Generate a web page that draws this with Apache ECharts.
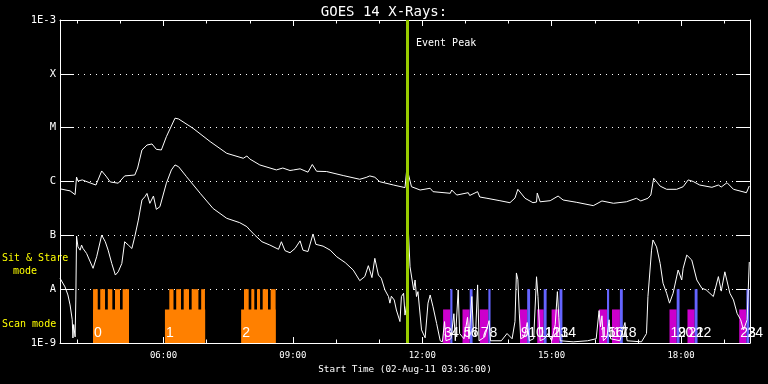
<!DOCTYPE html>
<html><head><meta charset="utf-8">
<script src="https://cdn.jsdelivr.net/npm/echarts@6/dist/echarts.min.js"></script>
<style>html,body{margin:0;padding:0;background:#000;}#c{width:768px;height:384px;}</style>
</head><body><div id="c"></div>
<script>
// ---- data (times are UT on 02-Aug-2011, flux in W/m^2) ----
const longTimes = ['03:36','03:50','03:57','03:59','04:01','04:07','04:18','04:26','04:34','04:40','04:46','04:57','05:06','05:20','05:24','05:30','05:37','05:44','05:50','05:57','06:04','06:16','06:21','06:41','07:05','07:28','07:51','07:56','08:00','08:14','08:37','08:46','08:56','09:01','09:10','09:21','09:27','09:33','09:47','10:10','10:33','10:42','10:47','10:54','11:01','11:20','11:36','11:38','11:39','11:41','11:45','11:57','12:11','12:15','12:39','12:41','12:48','13:04','13:06','13:17','13:20','13:30','13:48','14:02','14:09','14:13','14:23','14:34','14:39','14:40','14:44','14:58','15:09','15:16','15:35','15:58','16:10','16:26','16:44','16:58','17:04','17:14','17:18','17:22','17:31','17:40','17:54','18:03','18:10','18:17','18:26','18:43','18:52','18:56','19:04','19:13','19:31','19:35'];
const longFlux = [7.3e-7,6.7e-7,5.7e-7,1.21e-6,1.02e-6,1.07e-6,9.4e-7,8.6e-7,1.57e-6,1.26e-6,9.8e-7,9.3e-7,1.27e-6,1.32e-6,1.78e-6,3.85e-6,4.76e-6,4.98e-6,3.96e-6,3.85e-6,6.8e-6,1.5e-5,1.45e-5,9.75e-6,5.5e-6,3.34e-6,2.7e-6,2.98e-6,2.62e-6,2.03e-6,1.64e-6,1.78e-6,1.6e-6,1.64e-6,1.72e-6,1.49e-6,2.07e-6,1.55e-6,1.53e-6,1.29e-6,1.1e-6,1.19e-6,1.27e-6,1.2e-6,9.9e-7,8.6e-7,7.7e-7,7.9e-7,2.03e-6,1.32e-6,8.0e-7,6.95e-7,7.48e-7,6.47e-7,6.04e-7,6.95e-7,5.6e-7,6.2e-7,5.5e-7,6.47e-7,5.15e-7,4.88e-7,4.4e-7,4.04e-7,4.93e-7,7.16e-7,4.88e-7,4.04e-7,4.15e-7,6.1e-7,4.2e-7,4.4e-7,5.37e-7,4.53e-7,4.1e-7,3.56e-7,4.35e-7,3.94e-7,4.2e-7,4.88e-7,4.35e-7,4.88e-7,5.6e-7,1.15e-6,8.2e-7,7.16e-7,7.16e-7,8.0e-7,1.07e-6,1.0e-6,8.6e-7,7.8e-7,8.6e-7,7.9e-7,9.5e-7,7.16e-7,6.2e-7,8.25e-7];

const shortTimes = ['03:36','03:37','03:43','03:47','03:50','03:53','03:54','03:55','03:57','03:58','03:59','04:01','04:04','04:06','04:08','04:13','04:22','04:27','04:34','04:39','04:43','04:48','04:53','04:57','05:02','05:06','05:11','05:16','05:20','05:25','05:30','05:34','05:37','05:41','05:46','05:50','05:55','05:57','06:04','06:11','06:16','06:21','06:32','06:51','07:09','07:28','07:46','07:56','08:00','08:07','08:17','08:28','08:40','08:44','08:49','08:56','09:03','09:10','09:14','09:21','09:28','09:32','09:42','09:52','10:01','10:13','10:24','10:33','10:40','10:45','10:50','10:54','10:59','11:03','11:08','11:13','11:15','11:17','11:21','11:24','11:29','11:31','11:34','11:36','11:38','11:40','11:43','11:48','11:50','11:52','11:54','11:59','12:04','12:08','12:11','12:15','12:20','12:25','12:28','12:31','12:33','12:40','12:44','12:46','12:50','12:52','12:58','13:03','13:05','13:09','13:11','13:14','13:17','13:19','13:27','13:33','13:35','13:50','13:58','14:05','14:09','14:11','14:13','14:15','14:17','14:22','14:26','14:29','14:35','14:39','14:41','14:44','14:50','14:55','15:00','15:05','15:08','15:10','15:12','15:30','15:50','16:02','16:06','16:08','16:10','16:12','16:17','16:20','16:22','16:35','16:42','16:45','17:05','17:12','17:14','17:19','17:21','17:26','17:31','17:35','17:40','17:44','17:49','17:56','18:01','18:03','18:08','18:15','18:22','18:29','18:35','18:45','18:52','18:56','19:01','19:08','19:13','19:18','19:23','19:27','19:32','19:35'];
const shortFlux = [1.6e-8,1.48e-8,1.1e-8,7.8e-9,5.1e-9,2.7e-9,1.24e-9,2.2e-9,1.3e-9,6.3e-9,9.7e-8,6.1e-8,5.3e-8,6.6e-8,5.7e-8,4.6e-8,2.44e-8,4.0e-8,1.01e-7,7.6e-8,5.3e-8,3.0e-8,1.83e-8,2.1e-8,3.0e-8,7.6e-8,6.6e-8,5.7e-8,9.4e-8,1.92e-7,4.53e-7,5.2e-7,6.0e-7,3.93e-7,5.37e-7,3.04e-7,3.4e-7,3.65e-7,9.3e-7,1.64e-6,2.03e-6,1.88e-6,1.23e-6,6.04e-7,3.15e-7,2.07e-7,1.72e-7,1.45e-7,1.26e-7,1.01e-7,7.6e-8,6.6e-8,5.5e-8,7.6e-8,5.2e-8,4.75e-8,5.7e-8,7.9e-8,5.3e-8,5.0e-8,1.06e-7,6.8e-8,6.3e-8,5.3e-8,4.0e-8,3.1e-8,2.26e-8,1.44e-8,1.71e-8,2.73e-8,1.64e-8,3.74e-8,1.83e-8,1.6e-8,9.7e-9,7.3e-9,5.5e-9,7.4e-9,6.3e-9,4.1e-9,2.5e-9,7.3e-9,8.4e-9,3.3e-9,5.0e-9,1.92e-7,2.6e-8,9.7e-9,1.48e-8,7.3e-9,9.0e-9,1.75e-9,1.25e-9,5.5e-9,7.8e-9,4.7e-9,2.3e-9,1.1e-9,1.05e-9,2.5e-9,1.1e-9,1.2e-9,3.5e-9,1.1e-9,9.7e-9,1.5e-9,1.2e-9,3.0e-9,1.2e-9,7.3e-9,1.8e-9,1.3e-9,1.2e-8,1.1e-9,1.3e-9,2.6e-9,1.1e-9,1.1e-9,1.5e-9,1.2e-9,2.5e-9,2.0e-8,1.5e-8,3.6e-9,1.2e-9,1.3e-9,2.4e-9,1.1e-9,1.2e-9,1.7e-8,7.3e-9,1.1e-9,1.2e-9,1.5e-9,1.1e-9,2.2e-9,9.0e-9,3.0e-9,1.1e-9,1.05e-9,1.1e-9,1.2e-9,4.0e-9,2.0e-9,3.2e-9,1.1e-9,1.3e-9,2.7e-9,1.2e-9,1.1e-9,2.4e-9,1.1e-9,1.05e-9,1.5e-9,7.3e-9,5.3e-8,8.2e-8,6.1e-8,3.0e-8,1.29e-8,8.4e-9,5.5e-9,8.4e-9,2.27e-8,1.48e-8,2.44e-8,4.3e-8,3.47e-8,1.48e-8,1.04e-8,9.7e-9,7.3e-9,1.71e-8,9.2e-9,2.1e-8,8.4e-9,6.3e-9,3.56e-9,2.7e-9,1.75e-9,2.7e-9,3.2e-8];

// scan-mode (orange) groups: base block and full-height segments
const scanStart = ['04:22','06:02','07:48'];
const scanEnd   = ['05:12','06:58','08:36'];
const scanSegments = [
  [['04:22','04:28:30'],['04:32','04:38:40'],['04:42:30','04:48:50'],['04:52:30','04:59:30'],['05:03:10','05:12']],
  [['06:08:05','06:13:55'],['06:17:40','06:24:20'],['06:28:05','06:35:30'],['06:39:10','06:48:35'],['06:52:25','06:57:40']],
  [['07:52','07:58:30'],['08:02:10','08:06:20'],['08:10:05','08:14:20'],['08:18','08:25:25'],['08:29:05','08:36']]
];
// sit & stare (magenta + blue) blocks
const stareStart = ['12:29','12:56','13:20','14:16','14:40','15:00','16:06','16:24','17:44','18:09','19:21'];
const stareMid   = ['12:39','13:06','13:32','14:26','14:49','15:11','16:17','16:35','17:54','18:19','19:31'];
const stareEnd   = ['12:42','13:10','13:35','14:30','14:53','15:15','16:20','16:39','17:58','18:23','19:35'];
const modeLabels = ['0','1','2','3','4','5','6','7','8','9','10','11','12','13','14','15','16','17','18','19','20','21','22','23','24'];
const modeLabelTimes = ['04:22','06:02','07:48','12:29','12:39','12:56','13:06','13:20','13:32','14:16','14:26','14:40','14:49','15:00','15:11','16:06','16:17','16:24','16:35','17:44','17:54','18:09','18:19','19:21','19:31'];
const LEVEL_FLOOR = 1e-9, LEVEL_LOW = 4.2e-9, LEVEL_HIGH = 1e-8;
const eventPeak = '11:39';
const axisStart = '03:36', axisEnd = '19:36';
const majorTicks = ['06:00','09:00','12:00','15:00','18:00'];
const hourTicks = ['04:00','05:00','06:00','07:00','08:00','09:00','10:00','11:00','12:00','13:00','14:00','15:00','16:00','17:00','18:00','19:00'];
const yTickNames = {'-9':'1E-9','-8':'A','-7':'B','-6':'C','-5':'M','-4':'X','-3':'1E-3'};

// ---- helpers ----
const toMin = s => { const p = s.split(':').map(Number); return p[0]*60 + p[1] + (p[2] || 0)/60; };
const fmt = v => { const h = Math.floor(v/60), m = Math.round(v - h*60); return String(h).padStart(2,'0') + ':' + String(m).padStart(2,'0'); };
const MONO = 'DejaVu Sans Mono';

const longData = longTimes.map((t,i) => [toMin(t), longFlux[i]]);
const shortData = shortTimes.map((t,i) => [toMin(t), shortFlux[i]]);
const orangeRects = [];
scanStart.forEach((s,i) => {
  orangeRects.push([toMin(s), toMin(scanEnd[i]), LEVEL_LOW]);
  scanSegments[i].forEach(seg => orangeRects.push([toMin(seg[0]), toMin(seg[1]), LEVEL_HIGH]));
});
const magentaRects = stareStart.map((s,i) => [toMin(s), toMin(stareMid[i]), LEVEL_LOW]);
const blueRects = stareMid.map((s,i) => [toMin(s), toMin(stareEnd[i]), LEVEL_HIGH]);
const labelData = modeLabelTimes.map((t,i) => [toMin(t), LEVEL_FLOOR, i]);

function rectRender(color) {
  return function (params, api) {
    const p0 = api.coord([api.value(0), api.value(2)]);
    const p1 = api.coord([api.value(1), LEVEL_FLOOR]);
    return { type: 'rect', shape: { x: p0[0], y: p0[1], width: p1[0]-p0[0], height: p1[1]-p0[1] }, style: { fill: color } };
  };
}

const xMin = toMin(axisStart), xMax = toMin(axisEnd);
const W = '#ffffff';
function xAx(pos, ticks, len, withLine, withLabel) {
  const a = {
    type: 'value', position: pos, min: xMin, max: xMax, gridIndex: 0,
    axisLine: { show: withLine, lineStyle: { color: W, width: 1 } },
    axisTick: { show: true, inside: true, length: len, customValues: ticks.map(toMin), lineStyle: { color: W, width: 1 } },
    axisLabel: { show: false },
    splitLine: { show: false }
  };
  if (withLabel) {
    a.axisLabel = { show: true, customValues: ticks.map(toMin), formatter: fmt, color: W, fontFamily: MONO, fontSize: 9, margin: 8 };
    a.name = 'Start Time (02-Aug-11 03:36:00)';
    a.nameLocation = 'middle';
    a.nameGap = 20;
    a.nameTextStyle = { color: W, fontFamily: MONO, fontSize: 9.3 };
  }
  return a;
}

const chart = echarts.init(document.getElementById('c'), null, { renderer: 'canvas' });
chart.setOption({
  backgroundColor: '#000',
  animation: false,
  title: { text: 'GOES 14 X-Rays:', left: 'center', top: 0, textStyle: { color: W, fontFamily: MONO, fontSize: 14, fontWeight: 'normal' } },
  grid: { left: 60, top: 20, width: 690, height: 323, containLabel: false },
  xAxis: [
    xAx('bottom', majorTicks, 6, true, true),
    xAx('bottom', hourTicks, 3.5, false, false),
    xAx('top', majorTicks, 6, true, false),
    xAx('top', hourTicks, 3.5, false, false)
  ],
  yAxis: [
    { type: 'log', logBase: 10, min: 1e-9, max: 1e-3, position: 'left',
      axisLine: { show: true, lineStyle: { color: W, width: 1 } },
      axisTick: { show: true, inside: true, length: 14, lineStyle: { color: W, width: 1 } },
      axisLabel: { color: W, fontFamily: MONO, fontSize: 10.5, margin: 4,
        formatter: v => yTickNames[String(Math.round(Math.log10(v)))] || '' },
      splitLine: { show: true, lineStyle: { color: W, width: 1, type: [1, 5] } },
      minorTick: { show: false } },
    { type: 'log', logBase: 10, min: 1e-9, max: 1e-3, position: 'right',
      axisLine: { show: true, lineStyle: { color: W, width: 1 } },
      axisTick: { show: true, inside: true, length: 14, lineStyle: { color: W, width: 1 } },
      axisLabel: { show: false }, splitLine: { show: false } }
  ],
  graphic: [
    { type: 'text', left: 2, top: 253, style: { text: 'Sit & Stare', fill: '#ffff00', font: '10px "DejaVu Sans Mono"' } },
    { type: 'text', left: 13, top: 266, style: { text: 'mode', fill: '#ffff00', font: '10px "DejaVu Sans Mono"' } },
    { type: 'text', left: 2, top: 319, style: { text: 'Scan mode', fill: '#ffff00', font: '10px "DejaVu Sans Mono"' } },
    { type: 'text', left: 416, top: 38, style: { text: 'Event Peak', fill: W, font: '10px "DejaVu Sans Mono"' } }
  ],
  series: [
    { type: 'custom', name: 'scan', xAxisIndex: 0, yAxisIndex: 0, encode: { x: [0,1], y: 2 }, data: orangeRects, renderItem: rectRender('#ff8000'), z: 1, silent: true },
    { type: 'custom', name: 'stare', xAxisIndex: 0, yAxisIndex: 0, encode: { x: [0,1], y: 2 }, data: magentaRects, renderItem: rectRender('#cc00cc'), z: 1, silent: true },
    { type: 'custom', name: 'stareHi', xAxisIndex: 0, yAxisIndex: 0, encode: { x: [0,1], y: 2 }, data: blueRects, renderItem: rectRender('#6464ff'), z: 1, silent: true },
    { type: 'line', name: 'long', xAxisIndex: 0, yAxisIndex: 0, data: longData, showSymbol: false, symbol: 'none', lineStyle: { color: W, width: 1 }, z: 3, silent: true },
    { type: 'line', name: 'short', xAxisIndex: 0, yAxisIndex: 0, data: shortData, showSymbol: false, symbol: 'none', lineStyle: { color: W, width: 1 }, z: 3, silent: true,
      markLine: { silent: true, symbol: 'none', label: { show: false }, data: [{ xAxis: toMin(eventPeak) }], lineStyle: { color: '#99cc00', width: 3, type: 'solid' } } },
    { type: 'custom', name: 'labels', xAxisIndex: 0, yAxisIndex: 0, encode: { x: 0, y: 1 }, data: labelData, z: 5, silent: true,
      renderItem: function (params, api) {
        const p = api.coord([api.value(0), api.value(1)]);
        return { type: 'text', x: p[0] + 1, y: p[1] - 10, style: { text: modeLabels[api.value(2)], fill: W, font: '14px "Liberation Sans"', verticalAlign: 'middle', align: 'left' } };
      } }
  ]
});
</script>
</body></html>
